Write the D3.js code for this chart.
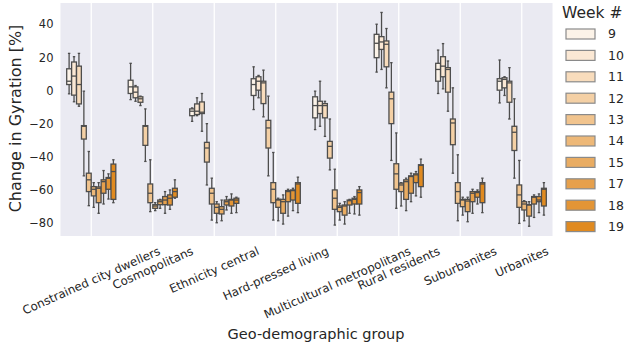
<!DOCTYPE html>
<html><head><meta charset="utf-8">
<script src="https://cdn.jsdelivr.net/npm/d3@7"></script>
<style>body{margin:0;background:#fff}svg{display:block}text{font-family:"DejaVu Sans",sans-serif;fill:#262626}</style>
</head><body><svg id="c" width="626" height="349"></svg>
<script>
const groups = ["Constrained city dwellers","Cosmopolitans","Ethnicity central","Hard-pressed living","Multicultural metropolitans","Rural residents","Suburbanites","Urbanites"];
const weeks = ["9","10","11","12","13","14","15","17","18","19"];
const yTicks = [-80,-60,-40,-20,0,20,40];
const colors = ["#fcf3e8","#fbe8d4","#f8dcbc","#f4d0a5","#f1c48e","#edb878","#e9ac62","#e6a04c","#e39536","#e08a20"];

const whiskerHigh = [
 [22.4,20.4,22.4,-0.4,-36.8,-55.6,-55.6,-48.3,-50.3,-41.8],
 [16.4,3.0,-3.4,-11.1,-41.8,-67.7,-65.7,-61.0,-60.0,-53.9],
 [-10.5,-4.4,-1.8,-20.0,-52.9,-67.1,-66.1,-64.0,-62.4,-64.4],
 [14.3,9.1,12.3,-3.4,-37.4,-65.0,-63.0,-59.6,-59.0,-52.3],
 [-0.4,5.6,-6.5,-17.2,-47.5,-68.1,-67.1,-65.7,-64.0,-58.0],
 [40.0,47.1,37.4,16.8,-25.6,-55.6,-52.9,-49.9,-48.9,-41.4],
 [24.4,28.3,17.8,1.6,-38.8,-64.4,-64.4,-59.6,-60.0,-52.9],
 [18.4,8.3,13.8,-5.0,-42.2,-66.5,-67.1,-63.0,-62.4,-55.6]];
const q3 = [
 [13.1,17.2,14.7,-21.2,-49.9,-58.0,-58.2,-53.9,-52.5,-44.4],
 [6.2,2.2,-3.8,-21.2,-56.4,-68.9,-66.1,-64.0,-63.0,-59.0],
 [-11.1,-8.1,-6.9,-31.3,-59.0,-68.5,-70.1,-66.1,-65.7,-65.0],
 [7.1,8.3,5.6,-18.0,-55.6,-65.7,-65.7,-60.4,-60.0,-55.6],
 [-3.8,-6.5,-7.9,-30.7,-60.0,-69.7,-69.1,-66.1,-65.0,-60.0],
 [33.9,32.5,29.9,-1.0,-44.2,-55.9,-53.9,-51.5,-50.3,-44.8],
 [16.4,20.4,13.8,-17.2,-55.6,-65.7,-65.7,-61.0,-61.0,-55.6],
 [7.1,7.7,5.6,-21.6,-57.0,-67.1,-68.9,-64.0,-64.0,-59.0]];
const medians = [
 [5.6,8.7,3.6,-21.6,-53.9,-59.6,-59.0,-55.0,-53.0,-48.9],
 [2.2,-1.0,-5.0,-21.6,-62.0,-69.7,-67.1,-66.1,-65.0,-61.0],
 [-12.5,-12.5,-13.1,-34.7,-62.0,-70.5,-71.7,-67.1,-66.1,-66.1],
 [3.6,5.6,4.6,-22.6,-59.6,-66.1,-67.1,-61.0,-60.4,-56.4],
 [-9.1,-9.1,-9.1,-33.7,-65.0,-70.5,-69.7,-66.5,-65.7,-61.6],
 [28.5,29.3,27.9,-5.0,-50.3,-57.0,-55.0,-51.9,-50.9,-45.2],
 [12.7,14.7,12.7,-19.6,-61.0,-66.1,-66.7,-62.0,-61.6,-56.4],
 [5.6,6.7,4.6,-25.2,-63.0,-68.5,-69.1,-64.4,-66.1,-59.6]];
const q1 = [
 [3.6,-2.8,-8.1,-29.3,-61.0,-63.6,-67.7,-62.0,-59.6,-65.7],
 [-1.8,-4.4,-7.1,-33.1,-67.7,-71.1,-68.9,-68.9,-69.1,-64.4],
 [-15.2,-14.5,-13.9,-43.2,-68.5,-74.1,-74.5,-69.1,-69.7,-68.1],
 [-3.0,0.2,-7.9,-34.7,-67.7,-70.5,-74.1,-67.1,-66.1,-68.1],
 [-16.5,-13.9,-16.5,-40.8,-71.7,-73.1,-75.2,-69.1,-68.5,-68.5],
 [19.8,24.8,14.3,-20.0,-59.6,-61.0,-65.7,-62.0,-55.6,-58.0],
 [5.6,8.3,-1.0,-32.7,-68.1,-70.1,-73.1,-67.1,-64.4,-67.7],
 [0.2,1.6,-7.1,-36.2,-70.5,-72.1,-75.8,-68.5,-67.1,-69.7]];
const whiskerLow = [
 [-2.0,-6.8,-9.5,-51.5,-69.5,-70.5,-74.1,-68.5,-65.5,-67.7],
 [-5.5,-6.5,-9.1,-42.8,-73.1,-72.5,-71.1,-74.1,-71.7,-65.0],
 [-18.6,-15.2,-24.6,-57.0,-78.2,-79.8,-78.6,-72.1,-74.1,-73.7],
 [-11.5,-4.4,-15.9,-51.5,-78.2,-78.6,-80.6,-75.8,-72.5,-73.7],
 [-23.6,-21.6,-27.7,-47.9,-81.2,-78.2,-80.6,-74.1,-74.5,-75.2],
 [11.1,12.7,1.6,-42.2,-71.1,-69.7,-72.5,-67.1,-63.6,-64.4],
 [-1.8,1.0,-12.5,-49.9,-78.6,-75.2,-79.2,-74.1,-68.5,-73.7],
 [-7.5,-3.0,-17.2,-52.9,-80.2,-78.6,-81.9,-76.6,-73.7,-75.2]];

const svg = d3.select("#c");
const L = 60.5, R = 552.5, T = 3, B = 236;
const edge = "#4d4d4d";

const x0 = d3.scaleBand().domain(groups).range([L, R]).padding(0);
const bw = x0.bandwidth();
const x1 = d3.scaleBand().domain(weeks).range([0.1*bw, 0.9*bw]);
const y = d3.scaleLinear().domain([-87.8, 52.8]).range([B, T]);
const color = d3.scaleOrdinal().domain(weeks).range(colors);

svg.append("rect").attr("x", L).attr("y", T).attr("width", R-L).attr("height", B-T).attr("fill", "#eaeaf2");
svg.append("g").selectAll("line").data(groups).join("line")
  .attr("x1", d => x0(d)+bw/2).attr("x2", d => x0(d)+bw/2)
  .attr("y1", T).attr("y2", B).attr("stroke", "#fff").attr("stroke-width", 1.3);

// boxes
const rows = [];
groups.forEach((g, gi) => weeks.forEach((w, wi) => rows.push({g, w,
  wh: whiskerHigh[gi][wi], q3: q3[gi][wi], md: medians[gi][wi], q1: q1[gi][wi], wl: whiskerLow[gi][wi]})));
const boxW = x1.bandwidth()*0.98;
const bg = svg.append("g").selectAll("g").data(rows).join("g")
  .attr("transform", d => `translate(${x0(d.g)+x1(d.w)+x1.bandwidth()/2},0)`);
bg.append("line").attr("x1",0).attr("x2",0).attr("y1",d=>y(d.wh)).attr("y2",d=>y(d.q3)).attr("stroke",edge).attr("stroke-width",1.3);
bg.append("line").attr("x1",0).attr("x2",0).attr("y1",d=>y(d.q1)).attr("y2",d=>y(d.wl)).attr("stroke",edge).attr("stroke-width",1.3);
bg.append("line").attr("x1",-boxW/4).attr("x2",boxW/4).attr("y1",d=>y(d.wh)).attr("y2",d=>y(d.wh)).attr("stroke",edge).attr("stroke-width",1.3);
bg.append("line").attr("x1",-boxW/4).attr("x2",boxW/4).attr("y1",d=>y(d.wl)).attr("y2",d=>y(d.wl)).attr("stroke",edge).attr("stroke-width",1.3);
bg.append("rect").attr("x",-boxW/2).attr("width",boxW).attr("y",d=>y(d.q3)).attr("height",d=>Math.max(0.5,y(d.q1)-y(d.q3)))
  .attr("fill",d=>color(d.w)).attr("stroke",edge).attr("stroke-width",1.3);
bg.append("line").attr("x1",-boxW/2).attr("x2",boxW/2).attr("y1",d=>y(d.md)).attr("y2",d=>y(d.md)).attr("stroke",edge).attr("stroke-width",1.3);

// y axis
const ya = svg.append("g").attr("transform", `translate(${L},0)`)
  .call(d3.axisLeft(y).tickValues(yTicks).tickSize(0).tickPadding(7));
ya.select(".domain").remove();
ya.selectAll("text").attr("font-size", 11.5).attr("fill", "#262626").style("font-family","DejaVu Sans");

// x axis
const xa = svg.append("g").attr("transform", `translate(0,${B})`)
  .call(d3.axisBottom(x0).tickSize(0));
xa.select(".domain").remove();
const deg = 24, ang = deg*Math.PI/180, fs = 11.8;
xa.selectAll("text").attr("font-size", fs).attr("fill","#262626").style("font-family","DejaVu Sans")
  .attr("y", 0).attr("dy", "0.35em").attr("text-anchor", "middle")
  .each(function(){
    const len = this.getComputedTextLength();
    const h = fs*1.16;
    const H = len*Math.sin(ang) + h*Math.cos(ang);
    d3.select(this).attr("transform", `translate(0,${8 + H/2}) rotate(-${deg})`);
  });

svg.append("text").attr("x", 316).attr("y", 339).attr("text-anchor","middle").attr("font-size",14.5).text("Geo-demographic group");
svg.append("text").attr("transform", `translate(21,${(T+B)/2 - 1}) rotate(-90)`).attr("text-anchor","middle").attr("font-size",16).text("Change in Gyration [%]");

// legend
const lg = svg.append("g");
lg.append("text").attr("x", 562).attr("y", 18).attr("font-size", 15.5).text("Week #");
const li = lg.selectAll("g").data(weeks).join("g").attr("transform", (d,i) => `translate(566,${29 + i*21.4})`);
li.append("rect").attr("width", 29).attr("height", 10).attr("fill", d => color(d)).attr("stroke", "#8a8a8a").attr("stroke-width", 1.2);
li.append("text").attr("x", 42).attr("y", 5).attr("dy","0.35em").attr("font-size", 12.5).text(d => d);
</script></body></html>
